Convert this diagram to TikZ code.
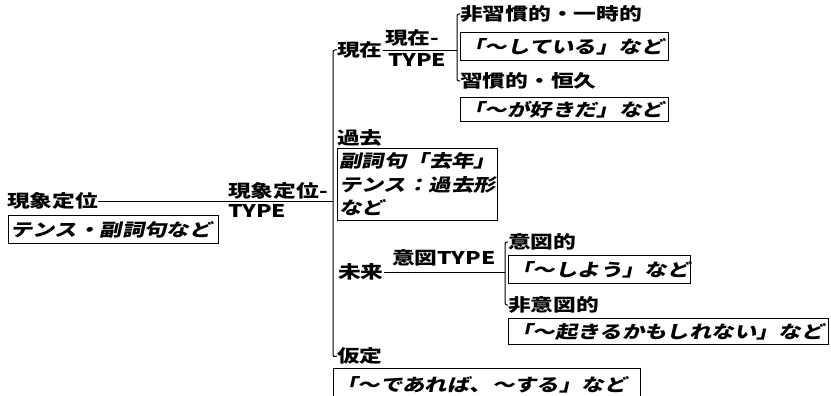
\documentclass[tikz,border=0pt]{standalone}
\usepackage{fontspec}
\newfontfamily\jpb[FakeStretch=1.3]{Noto Sans CJK JP}
\newfontfamily\jpi[FakeStretch=1.28,FakeSlant=0.22]{Noto Sans CJK JP}
\begin{document}
\begin{tikzpicture}[x=1pt,y=-1pt,
  lbl/.style={font=\jpb\bfseries\fontsize{17.5}{21}\selectfont, inner sep=0pt, anchor=west},
  exbox/.style={draw, line width=1pt, font=\jpi\bfseries\fontsize{17.5}{23.5}\selectfont, inner xsep=2pt, inner ysep=0pt, anchor=north west, align=left},
  conn/.style={line width=0.7pt},
  brk/.style={line width=1pt, rounded corners=2pt}]
\useasboundingbox (0,0) rectangle (831,396);

% root
\node[lbl] (root) at (7,201) {現象定位};
\node[exbox, text width=206pt, minimum height=28pt] (rootbox) at (8,215) {テンス・副詞句など};
\node[lbl, anchor=south west] (rtA) at (228,199) {現象定位-};
\node[lbl, anchor=north west] (rtB) at (228,204) {TYPE};

% main bracket
\coordinate (mbT) at (333,50);
\coordinate (mbB) at (333,357);
\draw[conn] (root.east) -- (root.east -| mbT);

\node[lbl] (genzai) at (337,50) {現在};
\node[lbl] (kako) at (337,138) {過去};
\node[exbox, text width=156pt, minimum height=72pt] (kakobox) at (337,148) {副詞句「去年」\\テンス：過去形\\など};
\node[lbl] (mirai) at (338,272) {未来};
\node[lbl] (katei) at (337,356) {仮定};
\node[exbox, text width=303pt, minimum height=32pt] (kateibox) at (333,368) {「〜であれば、〜する」など};
\draw[brk] (genzai.west) -- (mbT) -- (mbB) -- (katei.west);

% present
\node[lbl, anchor=south west] (gtA) at (385,46) {現在-};
\node[lbl, anchor=north west] (gtB) at (388,53) {TYPE};
\coordinate (sbT) at (457,14);
\coordinate (sbB) at (457,81);
\draw[conn] (genzai.east) -- (genzai.east -| sbT);
\node[lbl] (hishu) at (460,14) {非習慣的・一時的};
\node[exbox, text width=204pt, minimum height=28pt] (box1) at (460,32) {「〜している」など};
\node[lbl] (shu) at (460,81) {習慣的・恒久};
\node[exbox, text width=204pt, minimum height=24pt] (box2) at (460,97) {「〜が好きだ」など};
\draw[brk] (hishu.west) -- (sbT) -- (sbB) -- (shu.west);

% future
\node[lbl, anchor=south west] (itA) at (392,266) {意図TYPE};
\coordinate (fbT) at (505,242);
\coordinate (fbB) at (505,305);
\draw[conn] (mirai.east) -- (mirai.east -| fbT);
\node[lbl] (ito) at (508,242) {意図的};
\node[exbox, text width=178pt, minimum height=28pt] (box3) at (508,255) {「〜しよう」など};
\node[lbl] (hiito) at (508,305) {非意図的};
\node[exbox, text width=316pt, minimum height=26pt] (box4) at (508,318) {「〜起きるかもしれない」など};
\draw[brk] (ito.west) -- (fbT) -- (fbB) -- (hiito.west);
\end{tikzpicture}
\end{document}
